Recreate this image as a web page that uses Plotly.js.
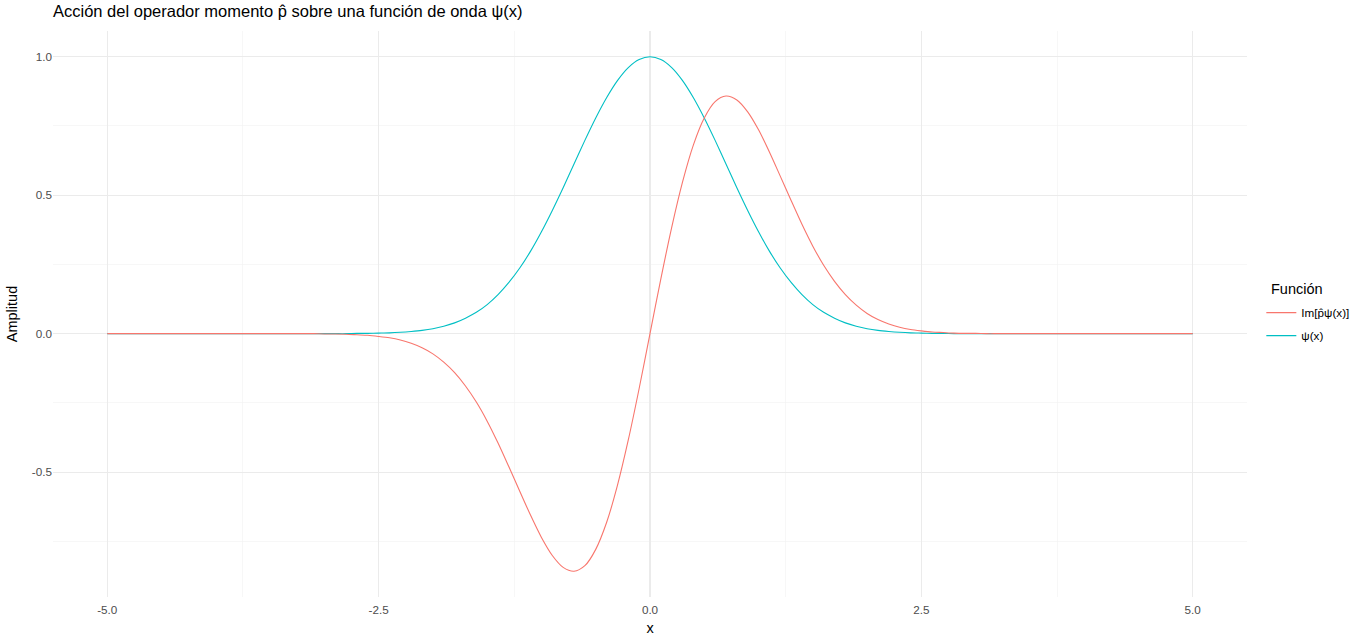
<!DOCTYPE html>
<html>
<head>
<meta charset="utf-8">
<script src="https://cdn.plot.ly/plotly-3.0.1.min.js"></script>
<style>html,body{margin:0;padding:0;background:#fff;}#chart{width:1366px;height:642px;}</style>
</head>
<body>
<div id="chart"></div>
<script>
// x grid, step 0.1 from -5 to 5
const xValues = [
-5.0,-4.9,-4.8,-4.7,-4.6,-4.5,-4.4,-4.3,-4.2,-4.1,
-4.0,-3.9,-3.8,-3.7,-3.6,-3.5,-3.4,-3.3,-3.2,-3.1,
-3.0,-2.9,-2.8,-2.7,-2.6,-2.5,-2.4,-2.3,-2.2,-2.1,
-2.0,-1.9,-1.8,-1.7,-1.6,-1.5,-1.4,-1.3,-1.2,-1.1,
-1.0,-0.9,-0.8,-0.7,-0.6,-0.5,-0.4,-0.3,-0.2,-0.1,
0.0,0.1,0.2,0.3,0.4,0.5,0.6,0.7,0.8,0.9,
1.0,1.1,1.2,1.3,1.4,1.5,1.6,1.7,1.8,1.9,
2.0,2.1,2.2,2.3,2.4,2.5,2.6,2.7,2.8,2.9,
3.0,3.1,3.2,3.3,3.4,3.5,3.6,3.7,3.8,3.9,
4.0,4.1,4.2,4.3,4.4,4.5,4.6,4.7,4.8,4.9,5.0];

// psi(x)
const psiValues = [
0,0,0,0,0,0,0,0,0,0,
0,0,0,0,0,0,0,0,0,0,
0,0,0,0.001,0.001,0.002,0.003,0.005,0.008,0.012,
0.018,0.027,0.039,0.056,0.077,0.105,0.141,0.185,0.237,0.298,
0.368,0.445,0.527,0.613,0.698,0.779,0.852,0.914,0.961,0.990,
1.000,0.990,0.961,0.914,0.852,0.779,0.698,0.613,0.527,0.445,
0.368,0.298,0.237,0.185,0.141,0.105,0.077,0.056,0.039,0.027,
0.018,0.012,0.008,0.005,0.003,0.002,0.001,0.001,0,0,
0,0,0,0,0,0,0,0,0,0,
0,0,0,0,0,0,0,0,0,0,0];

// Im[p psi(x)]
const imValues = [
0,0,0,0,0,0,0,0,0,0,
0,0,0,0,0,0,0,0,0,0,
-0.001,-0.001,-0.002,-0.004,-0.006,-0.010,-0.015,-0.023,-0.035,-0.051,
-0.073,-0.103,-0.141,-0.189,-0.247,-0.316,-0.395,-0.481,-0.569,-0.656,
-0.736,-0.801,-0.844,-0.858,-0.838,-0.779,-0.682,-0.548,-0.384,-0.198,
0,0.198,0.384,0.548,0.682,0.779,0.838,0.858,0.844,0.801,
0.736,0.656,0.569,0.481,0.395,0.316,0.247,0.189,0.141,0.103,
0.073,0.051,0.035,0.023,0.015,0.010,0.006,0.004,0.002,0.001,
0.001,0,0,0,0,0,0,0,0,0,
0,0,0,0,0,0,0,0,0,0,0];

const seriesNames = ['Im[p̂ψ(x)]', 'ψ(x)'];
const seriesColors = ['#F8766D', '#00BFC4'];

const xTicks = [-5, -2.5, 0, 2.5, 5];
const xTickText = ['-5.0', '-2.5', '0.0', '2.5', '5.0'];
const yTicks = [-0.5, 0, 0.5, 1.0];
const yTickText = ['-0.5', '0.0', '0.5', '1.0'];

const font = 'Liberation Sans, Arial, sans-serif';

const traces = [
  {x: xValues, y: psiValues, name: seriesNames[1], type: 'scatter', mode: 'lines',
   line: {color: seriesColors[1], width: 1.1, shape: 'spline', smoothing: 0.8},
   legendrank: 2, legendgroup: 'b'},
  {x: xValues, y: imValues, name: seriesNames[0], type: 'scatter', mode: 'lines',
   line: {color: seriesColors[0], width: 1.1, shape: 'spline', smoothing: 0.8},
   legendrank: 1, legendgroup: 'a'}
];

const layout = {
  width: 1366, height: 642,
  margin: {l: 53, r: 116, t: 31, b: 45},
  paper_bgcolor: '#fff', plot_bgcolor: '#fff',
  font: {family: font, color: '#000'},
  title: {text: 'Acción del operador momento p̂ sobre una función de onda ψ(x)',
    x: 53/1366, xanchor: 'left', xref: 'container',
    y: 1 - 5/642, yanchor: 'top', yref: 'container',
    font: {size: 16.5, color: '#000', family: font}},
  xaxis: {
    range: [-5.5, 5.5], tickvals: xTicks, ticktext: xTickText,
    showline: false, zeroline: false, ticks: '',
    gridcolor: '#EBEBEB', gridwidth: 1.1,
    minor: {tickvals: [-3.75, -1.25, 1.25, 3.75], showgrid: true, gridcolor: '#F2F2F2', gridwidth: 0.6},
    tickfont: {size: 11.7, color: '#4D4D4D', family: font},
    ticklabelstandoff: 4,
    title: {text: 'x', font: {size: 14.5, color: '#000', family: font}, standoff: 8}
  },
  yaxis: {
    range: [-0.951, 1.093], tickvals: yTicks, ticktext: yTickText,
    showline: false, zeroline: false, ticks: '',
    gridcolor: '#EBEBEB', gridwidth: 1.1,
    minor: {tickvals: [-0.75, -0.25, 0.25, 0.75], showgrid: true, gridcolor: '#F2F2F2', gridwidth: 0.6},
    tickfont: {size: 11.7, color: '#4D4D4D', family: font},
    title: {text: 'Amplitud', font: {size: 14.5, color: '#000', family: font}, standoff: 10}
  },
  showlegend: true,
  legend: {
    x: 1.012, y: 0.528, xanchor: 'left', yanchor: 'top',
    font: {size: 11.7, color: '#000', family: font},
    traceorder: 'grouped', tracegroupgap: 4, itemwidth: 30, bgcolor: 'rgba(0,0,0,0)'
  },
  annotations: [{
    text: 'Función', xref: 'paper', yref: 'paper',
    x: 1 + 22/1197, xanchor: 'left', y: (597 - 289)/566, yanchor: 'middle',
    showarrow: false, font: {size: 14.5, color: '#000', family: font}
  }]
};

Plotly.newPlot('chart', traces, layout, {displayModeBar: false, staticPlot: true});
</script>
</body>
</html>
